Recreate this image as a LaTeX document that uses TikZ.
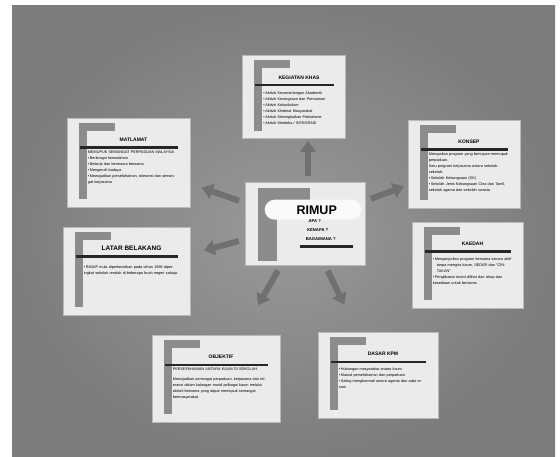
\documentclass[tikz,border=0pt]{standalone}
\usepackage{fontspec}
\setmainfont{Liberation Sans}
\usetikzlibrary{positioning,calc,arrows.meta}

\definecolor{bglight}{gray}{0.60}
\definecolor{bgdark}{gray}{0.49}
\definecolor{cardfill}{gray}{0.92}
\definecolor{barfill}{gray}{0.55}
\definecolor{arrowfill}{gray}{0.44}

% one bullet line with hanging indent
\newcommand{\bl}{\par\hangindent=4pt\hangafter=1\textbullet\,}

% slide: name, centre, width, height, title, body
\newcommand{\slide}[6]{%
	\pgfmathsetmacro{\bodywidth}{#3-32}
	\node[card, minimum width=#3, minimum height=#4] (#1) at (#2) {};
	\fill[barfill] ($(#1.north west)+(12,5)$)
		rectangle ($(#1.north west)+(48,13)$);
	\fill[barfill] ($(#1.north west)+(12,5)$)
		rectangle ($(#1.south west)+(20,-8)$);
	\node[slidetitle] (#1-title) at ($(#1.north)+(5,24)$) {#5};
	\draw[titlerule] ($(#1.north west)+(13,30)$)
		-- ($(#1.north east)+(-12,30)$);
	\node[slidebody, text width=\bodywidth pt]
		(#1-body) at ($(#1.north west)+(21,33)$) {#6};
}

\begin{document}
\begin{tikzpicture}[x=1pt, y=-1pt,
		card/.style={draw=gray!55, line width=0.6pt, fill=cardfill, inner sep=0pt},
		slidetitle/.style={anchor=base, inner sep=0pt, font=\bfseries\fontsize{5}{6}\selectfont},
		titlerule/.style={line width=2.4pt, black!85},
		slidebody/.style={anchor=north west, inner sep=0pt, align=left,
			font=\fontsize{3.8}{6}\selectfont},
		bigarrow/.style={arrowfill, line width=6pt,
			-{Triangle[length=11pt, width=15pt]}, shorten <=6pt}]

	% constants
	\pgfmathsetmacro{\xmin}{12};
	\pgfmathsetmacro{\xmax}{555};
	\pgfmathsetmacro{\ymin}{6};
	\pgfmathsetmacro{\ymax}{457};

	\useasboundingbox (0,0) rectangle (560,457);
	\fill[white] (0,0) rectangle (560,457);

	% board
	\shade[inner color=bglight, outer color=bgdark]
		(\xmin,\ymin) rectangle (\xmax,\ymax);

	% slides round the centre
	\slide{kegiatan}{294,97}{103}{83}{KEGIATAN KHAS}{%
		\bl Aktiviti Kecemerlangan Akademik
		\bl Aktiviti Kecergasan dan Permainan
		\bl Aktiviti Kokurikulum
		\bl Aktiviti Khidmat Masyarakat
		\bl Aktiviti Meningkatkan Patriotisme
		\bl Aktiviti Merdeka / INTEGRASI}

	\slide{matlamat}{128.5,162.5}{123}{89}{MATLAMAT}{%
		MEMUPUK SEMANGAT PERPADUAN MALAYSIA
		\bl Berkongsi kemudahan
		\bl Bekerja dan bermesra bersama
		\bl Mengenali budaya
		\bl Mewujudkan persefahaman, toleransi dan semangat kerjasama}

	\slide{konsep}{464,164}{112}{88}{KONSEP}{%
		Merupakan program yang bertujuan memupuk perpaduan.\par
		Satu program kerjasama antara sekolah-sekolah:
		\bl Sekolah Kebangsaan (SK)
		\bl Sekolah Jenis Kebangsaan Cina dan Tamil, sekolah agama dan sekolah swasta}

	\slide{latar}{126.5,271}{127}{88}{\fontsize{6.5}{7}\selectfont LATAR BELAKANG}{%
		\vspace*{3pt}
		\bl RIMUP mula diperkenalkan pada tahun 1986 diperingkat sekolah
		rendah di beberapa buah negeri sahaja.}

	\slide{kaedah}{467.5,265}{111}{86}{KAEDAH}{%
		\bl Menganjurkan program bersama secara aktif tanpa mengira kaum,
		SEDAR dan ``CINTAKAN''
		\bl Penglibatan murid dilihat dari sikap dan kesediaan untuk bersama}

	\slide{objektif}{216,378.5}{128}{87}{OBJEKTIF}{%
		PERSEFAHAMAN ANTARA KAUM DI SEKOLAH\par\vspace{4pt}
		Mewujudkan semangat perpaduan, kerjasama dan toleransi dalam
		kalangan murid pelbagai kaum melalui aktiviti bersama yang
		dapat memupuk semangat bermasyarakat.}

	\slide{dasar}{378,375}{120}{86}{DASAR KPM}{%
		\bl Hubungan masyarakat antara kaum
		\bl Mutual persefahaman dan perpaduan
		\bl Saling menghormati antara agama dan adat resam}

	% centre slide
	\node[card, minimum width=120, minimum height=83] (rimup) at (305,223.5) {};
	\fill[barfill] ($(rimup.north west)+(13,6)$)
		rectangle ($(rimup.north west)+(65,18)$);
	\fill[barfill] ($(rimup.north west)+(13,6)$)
		rectangle ($(rimup.south west)+(32,-4)$);
	\fill[white!96!gray, rounded corners=10pt] ($(rimup.north west)+(20,18)$)
		rectangle ($(rimup.north east)+(-4,38)$);
	\node[font=\bfseries\fontsize{12.5}{13}\selectfont, inner sep=0pt]
		(rimup-title) at ($(rimup.north west)+(72,29)$) {RIMUP};
	\node[font=\bfseries\fontsize{4.2}{5}\selectfont, inner sep=0pt]
		(apa) at ($(rimup.north west)+(70,39)$) {APA ?};
	\node[font=\bfseries\fontsize{4.2}{5}\selectfont, inner sep=0pt]
		(kenapa) at ($(rimup.north west)+(73,48)$) {KENAPA ?};
	\node[font=\bfseries\fontsize{4.2}{5}\selectfont, inner sep=0pt]
		(bagaimana) at ($(rimup.north west)+(76,57)$) {BAGAIMANA ?};
	\draw[titlerule] ($(rimup.north west)+(55,65)$)
		-- ($(rimup.north west)+(108,65)$);

	% arrows
	\draw[bigarrow, shorten >=2pt] ($(rimup.north)+(3,0)$)
		-- ($(rimup.north |- kegiatan.south)+(3,0)$);
	\draw[bigarrow, shorten >=12pt] (rimup) -- (matlamat);
	\draw[bigarrow, shorten >=4pt] (rimup) -- (konsep);
	\draw[bigarrow, shorten >=14pt] (rimup) -- (latar);
	\draw[bigarrow, shorten >=34pt] (rimup) -- (objektif);
	\draw[bigarrow, shorten >=30pt] (rimup) -- (dasar);

\end{tikzpicture}
\end{document}
